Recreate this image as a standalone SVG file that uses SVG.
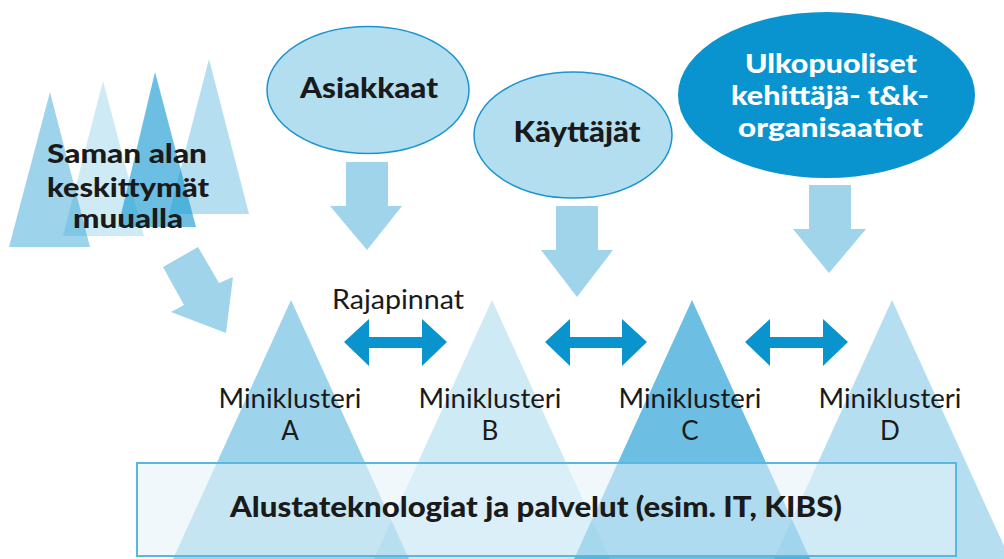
<svg xmlns="http://www.w3.org/2000/svg" width="1004" height="559" viewBox="0 0 1004 559">
<style>
.t1{fill:#0a94cf;fill-opacity:0.4}
.t2{fill:#0a94cf;fill-opacity:0.2}
.t3{fill:#0a94cf;fill-opacity:0.6}
.t4{fill:#0a94cf;fill-opacity:0.3}
.arr{fill:#9fd4ea}
.dbl{fill:#0994ce}
.bold{font-family:Lato,"Liberation Sans",sans-serif;font-weight:900;fill:#1a1a1a;text-anchor:middle}
.reg{font-family:Lato,"Liberation Sans",sans-serif;font-weight:400;fill:#1a1a1a;text-anchor:middle;font-size:26px}
.ell{fill:#b3def0;stroke:#1a94cf;stroke-width:1.5}
.w{fill:#ffffff}
</style>
<rect width="1004" height="559" fill="#ffffff"/>
<g id="saman-alan">
<polygon class="t1" points="50,92 90,247 9,247"/>
<polygon class="t2" points="103,81 144,236 63,236"/>
<polygon class="t3" points="155,72 196,227 118,227"/>
<polygon class="t4" points="209,59 249,214 169,214"/>
<text class="bold" font-size="26" x="127" y="163" textLength="160" lengthAdjust="spacingAndGlyphs">Saman alan</text>
<text class="bold" font-size="26" x="128" y="197" textLength="162" lengthAdjust="spacingAndGlyphs">keskittymät</text>
<text class="bold" font-size="26" x="128" y="228" textLength="110" lengthAdjust="spacingAndGlyphs">muualla</text>
</g>
<g id="miniklusteri-a"><polygon class="t1" points="291,300 414,570 168,570"/></g>
<g id="miniklusteri-b"><polygon class="t2" points="492,300 615,570 369,570"/></g>
<g id="miniklusteri-c"><polygon class="t3" points="692,300 815,570 569,570"/></g>
<g id="miniklusteri-d"><polygon class="t4" points="892,300 1015,570 769,570"/></g>
<g id="alusta">
<rect x="137" y="463" width="819" height="93" fill="#e6f3fa" fill-opacity="0.55" stroke="#5ab8e0" stroke-width="2"/>
<text class="bold" font-size="29" x="536" y="517" textLength="612" lengthAdjust="spacingAndGlyphs">Alustateknologiat ja palvelut (esim. IT, KIBS)</text>
</g>
<g id="labels">
<text class="reg" x="290" y="408" textLength="143" lengthAdjust="spacingAndGlyphs">Miniklusteri</text>
<text class="reg" x="290" y="440">A</text>
<text class="reg" x="490" y="408" textLength="143" lengthAdjust="spacingAndGlyphs">Miniklusteri</text>
<text class="reg" x="490" y="440">B</text>
<text class="reg" x="690" y="408" textLength="143" lengthAdjust="spacingAndGlyphs">Miniklusteri</text>
<text class="reg" x="690" y="440">C</text>
<text class="reg" x="890" y="408" textLength="143" lengthAdjust="spacingAndGlyphs">Miniklusteri</text>
<text class="reg" x="890" y="440">D</text>
</g>
<g id="asiakkaat">
<ellipse class="ell" cx="368" cy="90" rx="101" ry="63.5"/>
<text class="bold" font-size="29" x="369" y="98" textLength="138" lengthAdjust="spacingAndGlyphs">Asiakkaat</text>
</g>
<g id="kayttajat">
<ellipse class="ell" cx="573" cy="135" rx="99" ry="63"/>
<text class="bold" font-size="29" x="577" y="142" textLength="127" lengthAdjust="spacingAndGlyphs">Käyttäjät</text>
</g>
<g id="ulkopuoliset">
<ellipse cx="826.5" cy="95" rx="148.5" ry="83" fill="#0a94cf"/>
<text class="bold w" font-size="26" x="831" y="73" textLength="172" lengthAdjust="spacingAndGlyphs">Ulkopuoliset</text>
<text class="bold w" font-size="26" x="830" y="105" textLength="198" lengthAdjust="spacingAndGlyphs">kehittäjä- t&amp;k-</text>
<text class="bold w" font-size="26" x="830.5" y="137" textLength="185" lengthAdjust="spacingAndGlyphs">organisaatiot</text>
</g>
<g id="connectors">
<polygon class="arr" points="346,162 388,162 388,206 402,206 367,250 330,206 346,206"/>
<polygon class="arr" points="556,206 598,206 598,250 613,250 577,297 541,250 556,250"/>
<polygon class="arr" points="809,185 851,185 851,229 866,229 829,273 793,229 809,229"/>
<polygon class="arr" points="198,247 219,283 233,277 226,333 171,312 184,305 163,267"/>
<polygon class="dbl" points="344,342 369,319 369,337 422,337 422,319 447,342 422,366 422,348 369,348 369,366"/>
<polygon class="dbl" points="545,342 570,319 570,337 622,337 622,319 647,342 622,366 622,348 570,348 570,366"/>
<polygon class="dbl" points="745,342 770,319 770,337 823,337 823,319 848,342 823,366 823,348 770,348 770,366"/>
<text class="reg" x="398" y="309" textLength="132" lengthAdjust="spacingAndGlyphs">Rajapinnat</text>
</g>
</svg>
